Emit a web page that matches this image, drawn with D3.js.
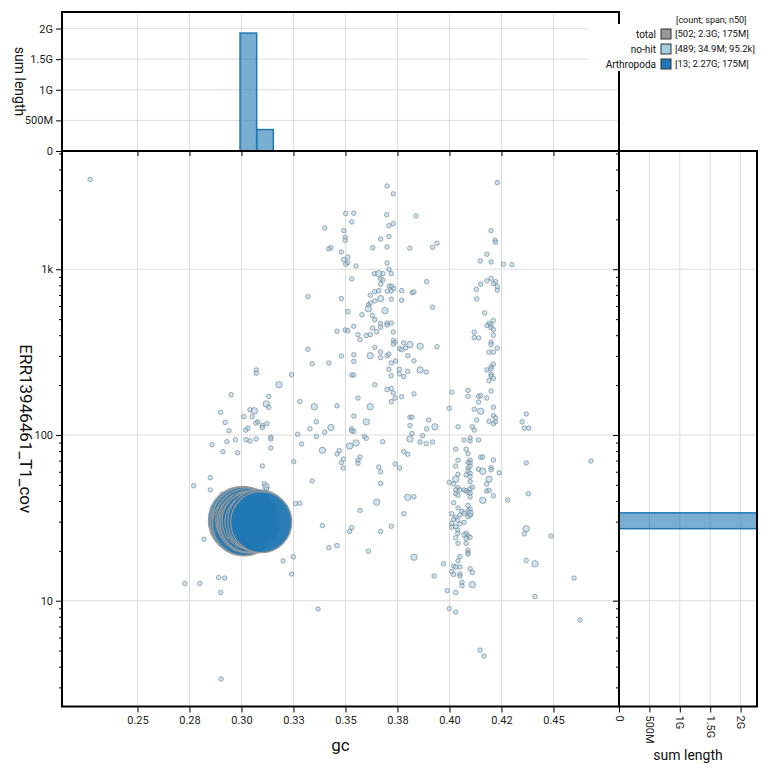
<!DOCTYPE html>
<html>
<head>
<meta charset="utf-8">
<script src="https://cdn.jsdelivr.net/npm/d3@7"></script>
<style>
  body { margin: 0; background: #fff; font-family: Roboto, "Noto Sans", sans-serif; }
  .tick text { font-family: Roboto, sans-serif; fill: #222; }
</style>
</head>
<body>
<div id="wrapper"></div>
<script>
// gc tick values and their printed labels
const xTicks = [0.25, 0.275, 0.3, 0.325, 0.35, 0.375, 0.4, 0.425, 0.45];
const xTickLabels = ["0.25", "0.28", "0.30", "0.33", "0.35", "0.38", "0.40", "0.42", "0.45"];
const yMajorTicks = [10, 100, 1000];
const yMajorLabels = ["10", "100", "1k"];
const histTicks = [0, 5e8, 1e9, 1.5e9, 2e9];
const histTickLabels = ["0", "500M", "1G", "1.5G", "2G"];

// sum-length histograms (bin edges, summed span)
const gcHist = [
  { x0: 0.2993, x1: 0.3073, len: 1.926e9 },
  { x0: 0.3073, x1: 0.3153, len: 0.35e9 },
];
const covHist = [{ y0: 27.2, y1: 33.9, len: 2.27e9 }];

// Arthropoda contigs: gc, coverage, length (Mb)
const arthGc = [0.3005, 0.301, 0.3015, 0.302, 0.3012, 0.3025, 0.303, 0.3035, 0.304, 0.3045, 0.305, 0.3085, 0.3095];
const arthCov = [30.5, 29.5, 31.0, 30.0, 29.0, 30.8, 29.8, 30.2, 29.6, 30.4, 30.0, 30.2, 29.8];
const arthLen = [215, 200, 190, 185, 180, 175, 170, 165, 160, 150, 130, 180, 170];

// no-hit contigs: [gc, coverage, length kb]
const noHit = [
  [0.3700,3180,45],[0.3730,2850,45],[0.3501,2170,45],[0.3540,2180,45],[0.3698,2135,45],
  [0.3839,2100,45],[0.3530,1930,45],[0.3730,1884,45],[0.3709,1832,45],[0.3400,1776,45],
  [0.3492,1710,45],[0.3499,1561,45],[0.3709,1574,45],[0.3499,1496,45],[0.3669,1523,45],
  [0.3940,1435,45],[0.3919,1358,45],[0.3631,1350,45],[0.3700,1363,45],[0.3809,1339,45],
  [0.3430,1350,45],[0.3419,1326,45],[0.3480,1272,45],[0.3511,1182,45],[0.3492,1143,45],
  [0.3511,1096,45],[0.3501,1072,45],[0.3551,1047,45],[0.3700,1091,45],[0.3709,1000,45],
  [0.3720,941,45],[0.3639,941,45],[0.3660,941,400],[0.3680,941,45],[0.3530,874,45],
  [0.3669,874,45],[0.3680,862,45],[0.3669,812,45],[0.3710,793,45],[0.3722,790,45],
  [0.3890,842,45],[0.3732,764,45],[0.3641,732,45],[0.3660,743,45],[0.3701,737,45],
  [0.3720,740,45],[0.3770,743,45],[0.3820,722,45],[0.3829,730,45],[0.3319,683,45],
  [0.3480,665,45],[0.3619,697,45],[0.3669,665,400],[0.3641,644,45],[0.3720,659,45],
  [0.3770,650,45],[0.3919,590,45],[0.3619,626,45],[0.3610,609,45],[0.3610,578,400],
  [0.3690,563,400],[0.3511,555,45],[0.3579,532,45],[0.3629,525,45],[0.3641,496,45],
  [0.3700,474,45],[0.3669,470,45],[0.3720,474,45],[0.3700,461,45],[0.3540,453,45],
  [0.3631,442,45],[0.3669,447,45],[0.3499,430,45],[0.3511,426,45],[0.3459,423,45],
  [0.3650,420,45],[0.3730,418,45],[0.3560,403,45],[0.3600,398,45],[0.3619,403,45],
  [0.3570,376,45],[0.3730,371,45],[0.3739,363,45],[0.3780,359,45],[0.3810,351,400],
  [0.3859,343,400],[0.3940,341,45],[0.3730,354,45],[0.3760,332,45],[0.3770,327,45],
  [0.3789,335,45],[0.3319,329,45],[0.3641,338,45],[0.3480,300,45],[0.3540,305,45],
  [0.3619,301,400],[0.3669,317,45],[0.3669,293,45],[0.3700,301,45],[0.3709,308,45],
  [0.3800,301,45],[0.3829,280,45],
  [0.3340,269,45],[0.3420,272,45],[0.3540,278,45],[0.3720,272,45],[0.3741,280,45],
  [0.3241,231,45],[0.3530,230,45],[0.3540,230,45],[0.3709,249,45],[0.3759,249,45],
  [0.3799,242,45],[0.3859,247,400],[0.3888,240,45],[0.3720,228,45],[0.3759,234,45],
  [0.3780,225,45],[0.3641,201,45],[0.3700,188,45],[0.3720,191,45],[0.3730,179,45],
  [0.3829,177,45],[0.3560,167,45],[0.3739,167,45],[0.3770,170,45],[0.3720,159,45],
  [0.3280,159,45],[0.3350,148,400],[0.3459,150,45],[0.3619,148,400],[0.3999,145,45],
  [0.3540,130,45],[0.3810,128,45],[0.3820,128,45],[0.3900,123,45],[0.3360,120,45],
  [0.3600,120,400],[0.3430,111,400],[0.3810,114,45],[0.3930,112,400],[0.3890,109,45],
  [0.3329,109,45],[0.3400,104,45],[0.3530,109,45],[0.3540,105,45],[0.3530,106,45],
  [0.3820,102,45],[0.3270,101,45],[0.3360,98,45],[0.3590,98,45],[0.3600,95.5,45],
  [0.3871,99,45],[0.3810,94.6,400],[0.3859,90.7,45],[0.3888,88.6,45],[0.3919,90.7,45],
  [0.3679,91.1,45],[0.3289,88.2,45],[0.3551,89.5,400],[0.3520,85.8,400],[0.3389,80.8,400],
  [0.3470,80.4,45],[0.3459,76.8,45],[0.3780,79.3,45],[0.3799,76.5,45],[0.3570,73.7,45],
  [0.3489,71.6,45],[0.3560,70.4,45],[0.3560,67.5,45],[0.3480,68.1,45],[0.3251,69.0,45],
  [0.3739,66.8,45],[0.3660,64.1,45],[0.3759,63.2,45],[0.3489,63.2,45],[0.3669,60.0,45],
  [0.3340,52.8,45],[0.3669,51.1,45],[0.3999,51.8,45],[0.3799,42.1,400],[0.3829,42.4,45],
  [0.3650,39.3,400],[0.3259,38.5,45],[0.3280,38.7,45],[0.3570,35.1,45],[0.3780,33.5,45],
  [0.3389,28.4,45],[0.3530,27.6,45],[0.3520,26.2,45],[0.3720,28.1,45],[0.3669,26.2,45],
  [0.3459,21.5,45],[0.3420,20.9,45],[0.3610,19.9,45],[0.3249,18.4,45],[0.3829,18.3,400],
  [0.4230,3331,45],[0.4200,1710,45],[0.4219,1496,45],[0.4221,1456,45],[0.4180,1233,45],
  [0.4148,1122,45],[0.4200,1107,45],[0.4259,1072,45],[0.4300,1066,45],[0.4200,882,45],
  [0.4180,853,45],[0.4221,842,45],[0.4211,819,45],[0.4150,812,45],[0.4230,785,45],
  [0.4230,747,45],[0.4129,757,45],[0.4131,662,45],[0.4169,545,45],[0.4211,490,45],
  [0.4190,472,45],[0.4200,461,45],[0.4180,457,45],[0.4200,444,45],[0.4211,432,45],
  [0.4119,417,45],[0.4211,400,45],[0.4119,387,45],[0.4140,385,45],[0.4200,363,45],
  [0.4200,351,45],[0.4230,334,45],[0.4190,316,45],[0.4211,316,45],[0.4211,267,45],
  [0.4200,258,45],[0.4200,251,45],[0.4180,247,45],[0.4200,233,45],[0.4200,227,45],
  [0.4211,220,45],[0.4190,213,45],[0.4011,181,45],[0.4089,186,45],[0.4200,184,45],
  [0.4089,171,45],[0.4140,171,45],[0.4150,173,45],[0.4179,167,45],
  [0.4140,158,45],[0.4211,147,45],[0.4119,143,45],[0.4150,139,400],[0.4211,131,45],
  [0.4221,127,45],[0.4131,123,45],[0.4190,121,45],[0.4221,120,45],[0.4211,117,45],
  [0.4369,134,45],[0.4349,120,45],[0.4360,110,45],[0.4381,110,45],[0.4041,112,45],
  [0.4110,112,45],[0.4119,107,45],[0.4070,93.3,45],[0.4099,95.9,45],[0.4099,92.0,45],
  [0.4140,93.3,45],[0.4030,82.3,45],[0.4080,82.0,45],[0.4089,77.1,45],[0.4150,73.3,45],
  [0.4160,73.7,45],[0.4211,70.6,45],[0.4041,70.4,45],[0.4099,70.4,45],[0.4089,68.4,45],
  [0.4099,67.8,45],[0.4369,67.8,45],[0.4030,65.0,45],[0.4089,63.2,45],[0.4099,64.7,45],
  [0.4200,63.5,45],[0.4140,62.1,45],[0.4160,60.4,400],[0.4239,59.2,45],[0.4200,61.7,45],
  [0.4089,60.4,45],[0.4099,58.7,45],[0.4041,57.9,45],[0.4080,57.4,45],[0.4099,56.0,45],
  [0.4190,54.1,400],[0.4030,54.1,400],[0.4099,52.3,45],[0.4179,50.6,45],[0.4020,50.6,45],
  [0.4041,48.1,45],[0.4030,46.6,45],[0.4050,46.6,45],[0.4070,46.6,45],[0.4080,46.1,45],
  [0.4099,47.4,45],[0.4110,48.3,45],[0.4089,45.1,45],[0.4030,44.2,45],[0.4041,43.3,45],
  [0.4179,45.9,45],[0.4190,46.4,45],[0.4211,43.0,45],[0.4099,44.5,45],[0.4099,42.3,45],
  [0.4160,40.4,400],[0.4280,40.5,45],[0.4379,44.2,45],[0.4020,39.0,45],[0.4041,36.3,45],
  [0.4089,37.6,45],[0.4099,35.6,45],[0.4089,34.8,45],[0.4099,33.7,400],[0.4060,34.6,45],
  [0.4070,33.7,45],[0.4011,33.5,45],[0.4050,32.9,45],[0.4089,32.1,45],[0.4099,32.8,45],
  [0.4030,31.9,45],[0.4020,31.0,45],[0.4040,30.6,45],[0.4011,29.3,45],[0.4050,29.0,45],
  [0.4070,29.7,45],[0.4011,27.7,45],[0.4030,28.0,45],[0.4040,26.7,45],[0.4040,25.5,45],
  [0.4080,25.5,45],[0.4089,24.6,45],[0.4099,24.1,45],[0.4070,25.0,45],[0.4030,24.0,45],
  [0.4080,23.8,45],[0.4041,22.2,45],[0.4080,22.2,45],[0.4369,27.2,400],[0.4360,25.3,45],
  [0.4089,20.2,45],[0.4089,19.5,45],[0.4089,19.1,45],[0.4050,18.5,45],[0.4041,17.4,45],
  [0.4369,17.5,45],[0.4411,16.7,400],[0.3971,16.7,45],[0.4020,16.2,45],[0.4050,16.0,45],
  [0.4030,16.0,45],[0.4099,15.6,45],[0.4011,15.0,45],[0.4110,14.8,45],[0.4020,14.4,45],
  [0.4050,14.5,45],[0.4050,14.1,45],[0.4060,12.9,45],[0.4060,12.3,45],[0.4110,12.5,400],
  [0.3989,11.5,45],[0.4030,11.2,45],[0.4411,10.6,45],[0.3999,8.95,45],[0.4030,8.55,45],
  [0.3071,247,45],[0.3071,236,45],[0.3180,201,400],[0.2950,175,45],[0.3131,171,45],
  [0.3119,154,400],[0.3131,147,45],[0.2900,137,45],[0.3041,142,45],[0.3062,140,400],
  [0.3011,129,45],[0.3051,129,45],[0.2921,119,45],[0.3078,120,45],[0.3069,118,45],
  [0.3100,114,45],[0.3122,117,45],[0.3100,111,45],[0.3031,110,45],[0.3020,107,45],
  [0.2940,106,45],[0.2971,93.7,45],[0.3022,93.7,45],[0.3041,92.0,45],[0.3070,94.6,45],
  [0.3141,96.9,45],[0.3141,94.6,45],[0.2930,91.1,45],[0.2859,87.4,45],[0.2911,79.3,45],
  [0.2981,78.2,45],[0.3141,83.5,45],[0.3100,65.0,45],[0.2850,55.3,45],[0.2770,49.4,45],
  [0.2850,46.6,45],[0.3110,50.8,45],[0.3118,48.7,400],[0.3121,47.2,45],[0.2908,44.0,45],
  [0.2820,23.5,45],[0.3200,17.4,45],[0.3241,14.5,45],[0.2890,13.8,45],[0.2919,13.7,45],
  [0.2728,12.7,45],[0.2799,12.7,45],[0.2900,11.2,45],
  [0.2272,3480,45],[0.2902,3.37,45],[0.4680,69.7,45],[0.4599,13.7,45],[0.4628,7.65,45],
  [0.4488,24.6,45],[0.4147,5.04,45],[0.4166,4.64,45],[0.3368,8.91,45],[0.3926,14.1,45],
];

const width = 770;
const height = 770;
const main = { left: 62, right: 619, top: 151, bottom: 706.5 };
const topPanel = { top: 12 };
const sidePanel = { right: 757 };

const svg = d3.select("#wrapper").append("svg")
  .attr("width", width).attr("height", height)
  .style("font-family", "Roboto, sans-serif");

const xScale = d3.scaleLinear().domain([0.2137, 0.4815]).range([main.left, main.right]);
const yScale = d3.scaleLog().domain([2.3, 5170]).range([main.bottom, main.top]);
const rScale = d3.scaleSqrt().domain([0, 175e6]).range([1.8, 31]);
const histY = d3.scaleLinear().domain([0, 2.27e9]).range([main.top, topPanel.top]);
const histX = d3.scaleLinear().domain([0, 2.27e9]).range([main.right, sidePanel.right]);

const minorTicks = yScale.ticks().filter((d) => !yMajorTicks.includes(d));
const gridColor = "#dcdcdc";

// gridlines
const grid = svg.append("g").attr("stroke", gridColor).attr("stroke-width", 1);
grid.selectAll(".gx").data(xTicks).join("line")
  .attr("x1", (d) => xScale(d)).attr("x2", (d) => xScale(d))
  .attr("y1", topPanel.top).attr("y2", main.bottom);
grid.selectAll(".gy").data(yMajorTicks).join("line")
  .attr("x1", main.left).attr("x2", sidePanel.right)
  .attr("y1", (d) => yScale(d)).attr("y2", (d) => yScale(d));
grid.selectAll(".ghy").data(histTicks.slice(1)).join("line")
  .attr("x1", main.left).attr("x2", main.right)
  .attr("y1", (d) => histY(d)).attr("y2", (d) => histY(d));
grid.selectAll(".ghx").data(histTicks.slice(1)).join("line")
  .attr("x1", (d) => histX(d)).attr("x2", (d) => histX(d))
  .attr("y1", main.top).attr("y2", main.bottom);

// histograms
svg.append("g").selectAll("rect").data(gcHist).join("rect")
  .attr("x", (d) => xScale(d.x0))
  .attr("width", (d) => xScale(d.x1) - xScale(d.x0))
  .attr("y", (d) => histY(d.len))
  .attr("height", (d) => histY(0) - histY(d.len))
  .attr("fill", "#1f78b4").attr("fill-opacity", 0.6)
  .attr("stroke", "#1f78b4").attr("stroke-width", 1.5);

svg.append("g").selectAll("rect").data(covHist).join("rect")
  .attr("x", histX(0))
  .attr("width", (d) => Math.min(histX(d.len), sidePanel.right) - histX(0))
  .attr("y", (d) => yScale(d.y1))
  .attr("height", (d) => yScale(d.y0) - yScale(d.y1))
  .attr("fill", "#1f78b4").attr("fill-opacity", 0.6)
  .attr("stroke", "#1f78b4").attr("stroke-width", 1.5);

// scatter
svg.append("clipPath").attr("id", "plot-clip").append("rect")
  .attr("x", main.left).attr("y", main.top)
  .attr("width", main.right - main.left).attr("height", main.bottom - main.top);

const points = svg.append("g").attr("clip-path", "url(#plot-clip)");

points.append("g").selectAll("circle").data(noHit).join("circle")
  .attr("cx", (d) => xScale(d[0]))
  .attr("cy", (d) => yScale(d[1]))
  .attr("r", (d) => rScale(d[2] * 1e3))
  .attr("fill", "#a6cee3").attr("fill-opacity", 0.55)
  .attr("stroke", "#5f7380").attr("stroke-opacity", 0.7).attr("stroke-width", 0.8);

const arth = arthGc.map((g, i) => ({ gc: g, cov: arthCov[i], len: arthLen[i] * 1e6 }));
points.append("g").selectAll("circle").data(arth).join("circle")
  .attr("cx", (d) => xScale(d.gc))
  .attr("cy", (d) => yScale(d.cov))
  .attr("r", (d) => rScale(d.len))
  .attr("fill", "#1f78b4").attr("fill-opacity", 0.8)
  .attr("stroke", "#9a9a9a").attr("stroke-width", 1.2);

// axes
const styleAxis = (g) => {
  g.select(".domain").remove();
  g.selectAll(".tick line").attr("stroke", "#000");
  g.selectAll(".tick text").style("font-size", "11px");
};

svg.append("g").attr("transform", `translate(0,${main.bottom})`)
  .call(d3.axisBottom(xScale).tickValues(xTicks).tickFormat((d, i) => xTickLabels[i]).tickSize(6).tickPadding(4))
  .call(styleAxis);

svg.append("g").attr("transform", `translate(0,${main.top})`)
  .call(d3.axisBottom(xScale).tickValues(xTicks).tickFormat("").tickSize(5))
  .call(styleAxis);

svg.append("g").attr("transform", `translate(${main.left},0)`)
  .call(d3.axisLeft(yScale).tickValues(yMajorTicks).tickFormat((d, i) => yMajorLabels[i]).tickSize(6).tickPadding(3))
  .call(styleAxis);
svg.append("g").attr("transform", `translate(${main.left},0)`)
  .call(d3.axisLeft(yScale).tickValues(minorTicks).tickFormat("").tickSize(3))
  .call(styleAxis);

svg.append("g").attr("transform", `translate(${main.right},0)`)
  .call(d3.axisLeft(yScale).tickValues(yMajorTicks).tickFormat("").tickSize(6))
  .call(styleAxis);
svg.append("g").attr("transform", `translate(${main.right},0)`)
  .call(d3.axisLeft(yScale).tickValues(minorTicks).tickFormat("").tickSize(3))
  .call(styleAxis);

svg.append("g").attr("transform", `translate(${main.left},0)`)
  .call(d3.axisLeft(histY).tickValues(histTicks).tickFormat((d, i) => histTickLabels[i]).tickSize(6).tickPadding(3))
  .call(styleAxis);

svg.append("g").attr("transform", `translate(0,${main.bottom})`)
  .call(d3.axisBottom(histX).tickValues(histTicks).tickFormat((d, i) => histTickLabels[i]).tickSize(6))
  .call(styleAxis)
  .selectAll(".tick text")
  .attr("transform", "rotate(90)")
  .attr("x", 9).attr("y", 0).attr("dy", "0.35em")
  .style("text-anchor", "start");

// panel frames
const frames = [
  [main.left, main.top, main.right - main.left, main.bottom - main.top],
  [main.left, topPanel.top, main.right - main.left, main.top - topPanel.top],
  [main.right, main.top, sidePanel.right - main.right, main.bottom - main.top],
];
svg.append("g").selectAll("rect").data(frames).join("rect")
  .attr("x", (d) => d[0]).attr("y", (d) => d[1])
  .attr("width", (d) => d[2]).attr("height", (d) => d[3])
  .attr("fill", "none").attr("stroke", "#000").attr("stroke-width", 2);

// axis titles
svg.append("text").attr("x", (main.left + main.right) / 2).attr("y", 751)
  .attr("text-anchor", "middle").style("font-size", "17px").attr("fill", "#111").text("gc");
svg.append("text").attr("transform", `translate(20,${(main.top + main.bottom) / 2}) rotate(90)`)
  .attr("text-anchor", "middle").style("font-size", "17px").attr("fill", "#111").text("ERR13946461_T1_cov");
svg.append("text").attr("transform", `translate(15,${(topPanel.top + main.top) / 2}) rotate(90)`)
  .attr("text-anchor", "middle").style("font-size", "14px").attr("fill", "#111").text("sum length");
svg.append("text").attr("x", (main.right + sidePanel.right) / 2).attr("y", 760)
  .attr("text-anchor", "middle").style("font-size", "14px").attr("fill", "#111").text("sum length");

// legend
const legendRows = [
  { name: "total", color: "#999", stats: "[502; 2.3G; 175M]" },
  { name: "no-hit", color: "#a6cee3", stats: "[489; 34.9M; 95.2k]" },
  { name: "Arthropoda", color: "#1f78b4", stats: "[13; 2.27G; 175M]" },
];
const legend = svg.append("g").style("font-size", "10px").attr("fill", "#111");
legend.append("rect").attr("x", 587).attr("y", 24).attr("width", 183).attr("height", 47).attr("fill", "#fff");
legend.append("text").attr("x", 676).attr("y", 23).style("font-size", "9px").text("[count; span; n50]");
const rows = legend.selectAll(".row").data(legendRows).join("g")
  .attr("transform", (d, i) => `translate(0,${34 + i * 15})`);
rows.append("text").attr("x", 656).attr("dy", "0.35em").attr("text-anchor", "end").text((d) => d.name);
rows.append("rect").attr("x", 661).attr("y", -5).attr("width", 10).attr("height", 10)
  .attr("fill", (d) => d.color).attr("stroke", "#333").attr("stroke-width", 1);
rows.append("text").attr("x", 675).attr("dy", "0.35em").style("font-size", "9.5px").text((d) => d.stats);
</script>
</body>
</html>
